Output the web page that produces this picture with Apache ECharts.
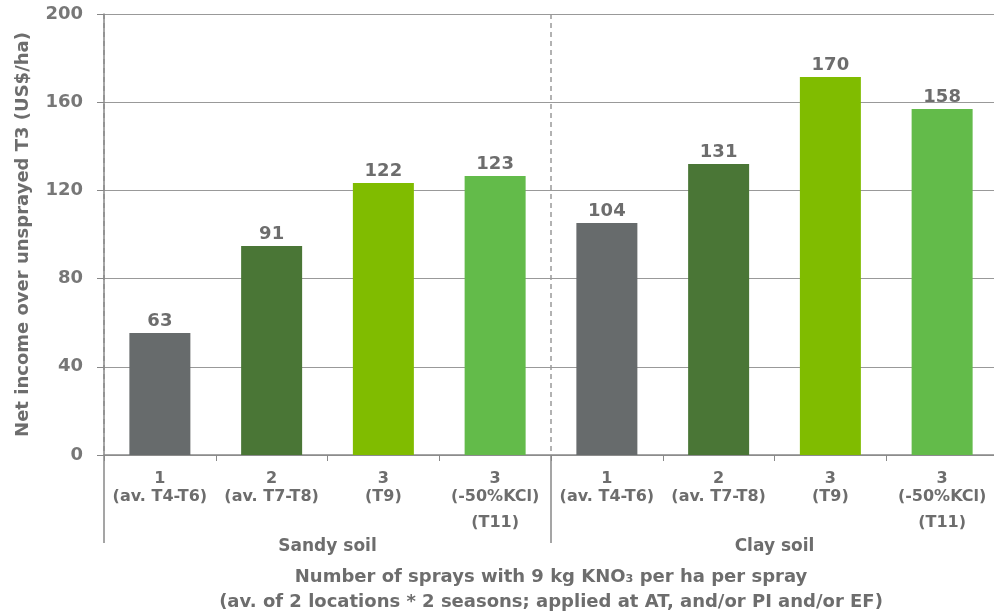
<!DOCTYPE html>
<html>
<head>
<meta charset="utf-8">
<script src="https://cdn.jsdelivr.net/npm/echarts@6/dist/echarts.min.js"></script>
<style>html,body{margin:0;padding:0;background:#fff}#c{width:994px;height:616px}</style>
</head>
<body>
<div id="c"></div>
<script>
var categories = ['1\n(av. T4-T6)', '2\n(av. T7-T8)', '3\n(T9)', '3\n(-50%KCl)\n(T11)',
                  '1\n(av. T4-T6)', '2\n(av. T7-T8)', '3\n(T9)', '3\n(-50%KCl)\n(T11)'];
var groups = ['Sandy soil', 'Clay soil'];
var barValues = [55.3, 94.8, 123.4, 126.5, 105.2, 132, 171.4, 156.9];
var labelTexts = ['63', '91', '122', '123', '104', '131', '170', '158'];
var barColors = ['#676b6c', '#4a7636', '#80bc00', '#63bb4a', '#676b6c', '#4a7636', '#80bc00', '#63bb4a'];
var yTicks = [0, 40, 80, 120, 160, 200];
var yTitle = 'Net income over unsprayed T3 (US$/ha)';
var xTitle = 'Number of sprays with 9 kg KNO₃ per ha per spray\n(av. of 2 locations * 2 seasons; applied at AT, and/or PI and/or EF)';

var FONT = 'DejaVu Sans';
var TXT = '#6d6d6d';
var catStyle = {color: TXT, fontFamily: FONT, fontWeight: 'bold', fontSize: 16};
var chart = echarts.init(document.getElementById('c'), null, {renderer: 'canvas'});
chart.setOption({
  animation: false,
  grid: {left: 104, right: -4, top: 14, bottom: 161, containLabel: false, outerBoundsMode: 'none'},
  xAxis: [{
    type: 'category', data: categories, position: 'bottom',
    axisLine: {show: true, lineStyle: {color: '#888', width: 1.5}},
    axisTick: {show: true, length: 6, lineStyle: {color: '#888'}},
    axisLabel: {
      margin: 15, interval: 0, color: TXT, fontFamily: FONT, fontWeight: 'bold', fontSize: 16,
      formatter: function (v) {
        var keys = ['a', 'b', 'c'];
        return v.split('\n').map(function (s, i) { return '{' + keys[i] + '|' + s + '}'; }).join('\n');
      },
      rich: {
        a: Object.assign({lineHeight: 18}, catStyle),
        b: Object.assign({lineHeight: 18}, catStyle),
        c: Object.assign({lineHeight: 34}, catStyle)
      }
    },
    splitLine: {show: false}
  }, {
    type: 'category', data: groups, position: 'bottom', gridIndex: 0,
    axisLine: {show: false},
    axisTick: {show: true, length: 88, lineStyle: {color: '#888', width: 1.5}},
    axisLabel: {color: TXT, fontFamily: FONT, fontWeight: 'bold', fontSize: 17, margin: 83},
    splitLine: {show: true, lineStyle: {color: '#999', type: [5, 4], width: 1.5}},
    name: xTitle, nameLocation: 'middle', nameGap: 110,
    nameTextStyle: {color: TXT, fontFamily: FONT, fontWeight: 'bold', fontSize: 18, lineHeight: 25}
  }],
  yAxis: {
    type: 'value', min: 0, max: 200, interval: 40,
    axisLine: {show: true, lineStyle: {color: '#888', width: 1.5}},
    axisTick: {show: true, length: 7, lineStyle: {color: '#888'}},
    axisLabel: {color: '#777', fontFamily: FONT, fontWeight: 'bold', fontSize: 18, margin: 21,
      formatter: function (v) { return yTicks.indexOf(v) >= 0 ? String(v) : ''; }},
    splitLine: {show: true, lineStyle: {color: '#999', width: 1.2}},
    name: yTitle, nameLocation: 'middle', nameGap: 72, nameRotate: 90,
    nameTextStyle: {color: TXT, fontFamily: FONT, fontWeight: 'bold', fontSize: 18}
  },
  series: [{
    type: 'bar', xAxisIndex: 0, barWidth: 61,
    data: barValues.map(function (v, i) { return {value: v, itemStyle: {color: barColors[i]}}; }),
    label: {show: true, position: 'top', distance: 3, color: TXT, fontFamily: FONT, fontWeight: 'bold', fontSize: 18,
      formatter: function (p) { return labelTexts[p.dataIndex]; }}
  }]
});
</script>
</body>
</html>
